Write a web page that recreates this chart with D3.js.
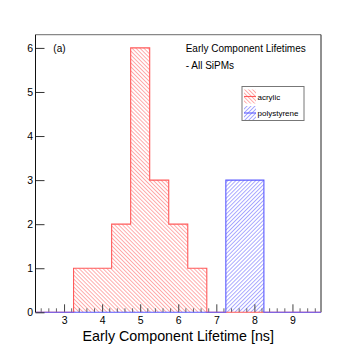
<!DOCTYPE html>
<html>
<head>
<meta charset="utf-8">
<script src="https://cdn.jsdelivr.net/npm/d3@7"></script>
<style>
  body { margin: 0; background: #fff; }
  text { font-family: "Liberation Sans", Arial, sans-serif; fill: #000; }
</style>
</head>
<body>
<svg width="357" height="347"></svg>
<script>
// bins of 0.5 ns from 2.25 to 9.75
const binEdges = [2.25, 2.75, 3.25, 3.75, 4.25, 4.75, 5.25, 5.75, 6.25, 6.75, 7.25, 7.75, 8.25, 8.75, 9.25, 9.75];
const acrylic = [0, 0, 1, 1, 2, 6, 3, 2, 1, 0, 0, 0, 0, 0, 0];
const polystyrene = [0, 0, 0, 0, 0, 0, 0, 0, 0, 0, 3, 3, 0, 0, 0];
const xTicks = [3, 4, 5, 6, 7, 8, 9];
const yTicks = [0, 1, 2, 3, 4, 5, 6];
const legendLabels = ["acrylic", "polystyrene"];

const svg = d3.select("svg");
const padL = 35.5, padR = 321, padT = 34.7, padB = 312.3;

const x = d3.scaleLinear().domain([2.25, 9.75]).range([padL, padR]);
const y = d3.scaleLinear().domain([0, 6.3]).range([padB, padT]);

const defs = svg.append("defs");
function hatch(id, color, angle) {
  const p = defs.append("pattern")
    .attr("id", id)
    .attr("patternUnits", "userSpaceOnUse")
    .attr("width", 2.8).attr("height", 2.8)
    .attr("patternTransform", `rotate(${angle})`);
  p.append("line")
    .attr("x1", 0).attr("y1", 0).attr("x2", 0).attr("y2", 2.8)
    .attr("stroke", color).attr("stroke-width", 1.1);
}
hatch("hRed", "#ff6a6a", -45);
hatch("hBlue", "#6666ff", 45);

function histPath(counts) {
  const pts = [[binEdges[0], 0]];
  counts.forEach((c, i) => {
    pts.push([binEdges[i], c]);
    pts.push([binEdges[i + 1], c]);
  });
  pts.push([binEdges[binEdges.length - 1], 0]);
  return d3.line().x(d => x(d[0])).y(d => y(d[1]))(pts);
}

// frame
svg.append("line").attr("x1", padL).attr("x2", padR).attr("y1", padT).attr("y2", padT)
  .attr("stroke", "#888").attr("stroke-width", 1.2);
svg.append("line").attr("x1", padR).attr("x2", padR).attr("y1", padT).attr("y2", padB)
  .attr("stroke", "#222").attr("stroke-width", 1);

const series = [
  { counts: acrylic, fill: "url(#hRed)", stroke: "#ff5a5a" },
  { counts: polystyrene, fill: "url(#hBlue)", stroke: "#5a5aff" }
];
series.forEach(s => {
  svg.append("path").attr("d", histPath(s.counts))
    .attr("fill", s.fill).attr("stroke", "none");
});

// x axis ticks
const xAxis = d3.axisBottom(x).tickValues(xTicks).tickSize(-8).tickFormat(d3.format("d")).tickPadding(4);
const gx = svg.append("g").attr("transform", `translate(0,${padB})`).call(xAxis);
gx.select(".domain").remove();
gx.selectAll(".tick line").attr("stroke", "#444");
gx.selectAll("text").attr("font-size", "10.5px").attr("font-family", "Liberation Sans, Arial, sans-serif");
const minor = d3.range(2.4, 9.75, 0.2).filter(v => Math.abs(v - Math.round(v)) > 0.01);
svg.append("g").selectAll("line").data(minor).join("line")
  .attr("x1", d => x(d)).attr("x2", d => x(d))
  .attr("y1", padB).attr("y2", padB - 4)
  .attr("stroke", "#666");

// histogram outlines
series.forEach(s => {
  svg.append("path").attr("d", histPath(s.counts))
    .attr("fill", "none").attr("stroke", s.stroke).attr("stroke-width", 1.1);
});

// y axis
const yAxis = d3.axisLeft(y).tickValues(yTicks).tickSize(-9).tickPadding(2.5).tickFormat(d3.format("d"));
const gy = svg.append("g").attr("transform", `translate(${padL},0)`).call(yAxis);
gy.select(".domain").remove();
gy.selectAll(".tick line").attr("stroke", "#333");
gy.selectAll("text").attr("font-size", "10.5px").attr("font-family", "Liberation Sans, Arial, sans-serif");
svg.append("line").attr("x1", padL).attr("x2", padL).attr("y1", padT).attr("y2", padB)
  .attr("stroke", "#111").attr("stroke-width", 1);

// x title
svg.append("text").attr("x", (padL + padR) / 2).attr("y", 340.5)
  .attr("text-anchor", "middle").attr("font-size", "14.3px")
  .text("Early Component Lifetime [ns]");

// annotations
svg.append("text").attr("x", 53.3).attr("y", 52).attr("font-size", "10px").text("(a)");
svg.append("text").attr("x", 185.7).attr("y", 52).attr("font-size", "10px").text("Early Component Lifetimes");
svg.append("text").attr("x", 185.7).attr("y", 69.3).attr("font-size", "10px").text("- All SiPMs");

// legend
const lg = svg.append("g");
lg.append("rect").attr("x", 242).attr("y", 86.5).attr("width", 62).attr("height", 34)
  .attr("fill", "#fff").attr("stroke", "#777").attr("stroke-width", 1);
legendLabels.forEach((lab, i) => {
  const cy = 96.5 + i * 16.5;
  lg.append("rect").attr("x", 244).attr("y", cy - 7).attr("width", 12).attr("height", 14)
    .attr("fill", series[i].fill);
  lg.append("line").attr("x1", 244).attr("x2", 256).attr("y1", cy).attr("y2", cy)
    .attr("stroke", series[i].stroke).attr("stroke-width", 1.1);
  lg.append("text").attr("x", 257.5).attr("y", cy + 3).attr("font-size", "8px").text(lab);
});
</script>
</body>
</html>
